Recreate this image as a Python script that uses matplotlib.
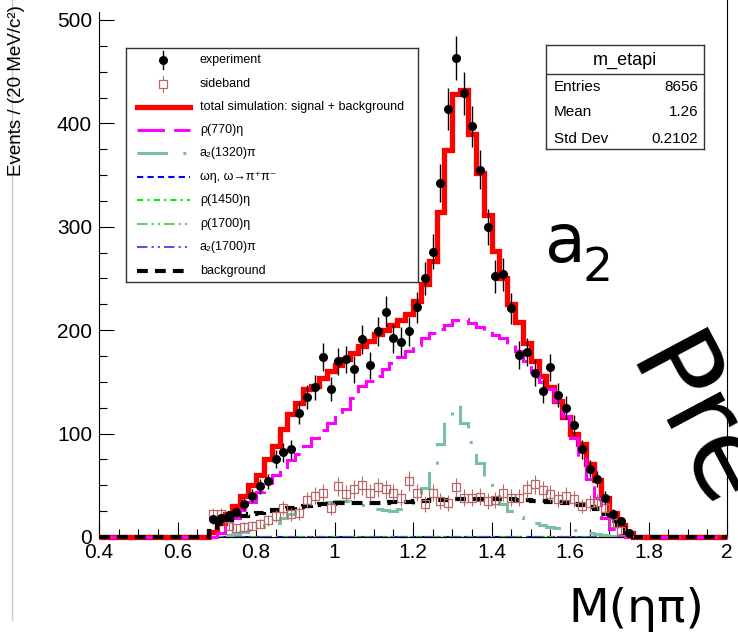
import numpy as np
import matplotlib
matplotlib.use("Agg")
import matplotlib.pyplot as plt
from matplotlib.lines import Line2D
from matplotlib.ticker import MultipleLocator, FuncFormatter

plt.rcParams['font.family'] = ['Liberation Sans', 'DejaVu Sans']

# 20 MeV bins from 0.4 to 2.0, data only from 0.68 on
lo, hi, width = 0.4, 2.0, 0.02
first_bin = 0.68

experiment = [17, 18, 21, 24, 32, 40, 49, 54, 75, 82, 85, 120, 135, 145, 174, 143,
              170, 172, 162, 191, 166, 199, 218, 192, 189, 199,
              222, 250, 276, 342, 414, 463, 429, 397, 355, 300,
              252, 254, 221, 176, 179, 159, 141, 164, 137, 125,
              108, 85, 66, 56, 38, 22, 15, 4]
sideband = [22, 22, 11, 9, 10, 11, 13, 16, 20, 28, 22, 23, 36, 40, 43, 28,
            49, 42, 46, 50, 43, 48, 46, 43, 38, 54,
            43, 32, 43, 35, 33, 48, 38, 38, 39, 35,
            36, 43, 38, 38, 46, 51, 45, 42, 37, 40,
            37, 30, 33, 34, 28, 14, 6, 2]
total_sim = [5, 14, 22, 30, 40, 50, 60, 75, 88, 104, 119, 130, 143, 146, 154, 161,
             166, 172, 178, 185, 190, 196, 200, 205, 210, 216,
             228, 245, 267, 314, 374, 428, 432, 390, 352, 311,
             277, 250, 225, 208, 188, 170, 156, 145, 132, 116,
             100, 90, 71, 55, 38, 23, 12, 4]
rho770 = [0, 4, 10, 18, 26, 34, 44, 52, 60, 68, 74, 80, 88, 96, 103, 110,
          116, 124, 134, 146, 151, 156, 162, 168, 174, 180,
          186, 192, 197, 201, 205, 210, 211, 207, 203, 199,
          195, 192, 186, 180, 170, 160, 150, 143, 132, 117,
          96, 77, 56, 38, 18, 8, 2, 0]
a2_1320 = [0, 1, 2, 3, 5, 7, 10, 12, 14, 18, 22, 26, 30, 32, 33, 34,
           35, 35, 33, 31, 29, 27, 26, 25, 27, 29,
           35, 47, 62, 90, 118, 128, 110, 92, 72, 55,
           42, 32, 25, 19, 16, 14, 12, 10, 9, 8,
           7, 6, 4, 3, 2, 1, 0, 0]
background = [6, 13, 16, 18, 20, 22, 23, 25, 26, 27, 28, 29, 30, 31, 32, 32,
              33, 33, 33, 33, 33, 33, 33, 34, 34, 34,
              35, 35, 36, 36, 36, 37, 37, 37, 37, 37,
              37, 37, 37, 36, 36, 35, 35, 34, 34, 33,
              32, 31, 29, 27, 22, 15, 9, 3]

legend_labels = ["experiment", "sideband", "total simulation: signal + background",
                 "ρ(770)η", "a₂(1320)π", "ωη, ω→π⁺π⁻", "ρ(1450)η", "ρ(1700)η",
                 "a₂(1700)π", "background"]
stats_title = "m_etapi"
stats_rows = [("Entries", "8656"), ("Mean", "1.26"), ("Std Dev", "0.2102")]

edges = np.round(np.arange(lo, hi + width / 2, width), 3)
nbins = len(edges) - 1
i0 = int(round((first_bin - lo) / width))
centers = 0.5 * (edges[:-1] + edges[1:])


def full(vals):
    a = np.zeros(nbins)
    a[i0:i0 + len(vals)] = vals
    return a


W, H = 738, 632
fig = plt.figure(figsize=(W / 100, H / 100), dpi=100)
ax = fig.add_axes([99 / W, 1 - 537 / H, 628 / W, 525 / H])
ax.set_xlim(lo, hi)
ax.set_ylim(0, 507.7)

styles = {
    "total": dict(color="#ff0000", lw=3.8),
    "rho770": dict(color="#ff00ff", lw=2.2, ls=(0, (9, 3))),
    "a2_1320": dict(color="#79bfa1", lw=2.2, ls=(0, (10, 5, 1, 5))),
    "omega": dict(color="#0000ff", lw=1.5, ls=(0, (3, 2))),
    "rho1450": dict(color="#00ee00", lw=1.5, ls=(0, (3, 2, 1, 2))),
    "rho1700": dict(color="#66cc66", lw=1.5, ls=(0, (5, 2, 1, 2, 1, 2))),
    "a2_1700": dict(color="#5555dd", lw=1.5, ls=(0, (5, 2, 1, 2, 1, 2))),
    "bkg": dict(color="black", lw=3.0, ls=(0, (2.6, 1.7))),
}

zeros = np.zeros(nbins)
for key in ["omega", "rho1450", "rho1700", "a2_1700"]:
    s = styles[key]
    ax.stairs(zeros, edges, color=s["color"], lw=s["lw"], linestyle=s["ls"], clip_on=False, zorder=2)

s = styles["a2_1320"]
ax.stairs(full(a2_1320), edges, color=s["color"], lw=s["lw"], linestyle=s["ls"], clip_on=False, zorder=2)
s = styles["total"]
ax.stairs(full(total_sim), edges, color=s["color"], lw=s["lw"], clip_on=False, zorder=3)
s = styles["rho770"]
ax.stairs(full(rho770), edges, color=s["color"], lw=s["lw"], linestyle=s["ls"], clip_on=False, zorder=3)
s = styles["bkg"]
ax.stairs(full(background), edges, color=s["color"], lw=s["lw"], linestyle=s["ls"], clip_on=False, zorder=4)

sb = np.array(sideband, dtype=float)
ax.errorbar(centers[i0:i0 + len(sb)], sb, yerr=1.3 * np.sqrt(sb), fmt="s", mfc="none",
            mec="#b86868", ecolor="#b86868", ms=6, mew=0.9, elinewidth=0.8, zorder=5)
ex = np.array(experiment, dtype=float)
ax.errorbar(centers[i0:i0 + len(ex)], ex, yerr=np.sqrt(ex), fmt="o", color="black",
            ms=5.5, elinewidth=1.0, zorder=6)

ax.xaxis.set_major_locator(MultipleLocator(0.2))
ax.xaxis.set_minor_locator(MultipleLocator(0.05))
ax.yaxis.set_major_locator(MultipleLocator(100))
ax.yaxis.set_minor_locator(MultipleLocator(25))
ax.xaxis.set_major_formatter(FuncFormatter(lambda v, p: "%g" % round(v, 2)))
ax.yaxis.set_major_formatter(FuncFormatter(lambda v, p: "%g" % v))
ax.tick_params(which="major", direction="in", length=11, width=0.8, labelsize=15)
ax.tick_params(which="minor", direction="in", length=6, width=0.8)
ax.tick_params(axis="x", pad=4)
ax.tick_params(axis="y", pad=5)
ax.spines["top"].set_visible(False)
for sp in ["left", "bottom", "right"]:
    ax.spines[sp].set_linewidth(0.8)
ax.spines["right"].set_bounds(0, 519)

fig.text(17 / W, 1 - 5 / H, "Events / (20 MeV/c²)", rotation=90, ha="center", va="top", fontsize=13.5)

# legend box
lax = fig.add_axes([126 / W, 1 - 282 / H, 292 / W, 234 / H])
lax.set_xlim(0, 292)
lax.set_ylim(234, 0)
lax.set_xticks([])
lax.set_yticks([])
for sp in lax.spines.values():
    sp.set_color("#333333")
    sp.set_linewidth(1)
rows = [12, 36, 59, 82, 105, 129, 152, 176, 199, 223]
lax.plot([37, 37], [rows[0] - 9, rows[0] + 9], color="black", lw=1)
lax.plot([37], [rows[0]], "o", color="black", ms=5.5)
lax.plot([37, 37], [rows[1] - 8, rows[1] + 8], color="#b86868", lw=0.8)
lax.plot([37], [rows[1]], "s", mfc="white", mec="#b86868", ms=6, mew=0.9)
for r, key in zip(rows[2:], ["total", "rho770", "a2_1320", "omega", "rho1450", "rho1700", "a2_1700", "bkg"]):
    s = styles[key]
    lax.plot([11, 64], [r, r], color=s["color"], lw=s["lw"], linestyle=s.get("ls", "-"))
for r, lab in zip(rows, legend_labels):
    lax.text(74, r, lab, va="center", ha="left", fontsize=9)

# stats box
sax = fig.add_axes([546 / W, 1 - 149 / H, 158 / W, 104 / H])
sax.set_xlim(0, 158)
sax.set_ylim(104, 0)
sax.set_xticks([])
sax.set_yticks([])
for sp in sax.spines.values():
    sp.set_color("#333333")
    sp.set_linewidth(1)
sax.plot([0, 158], [28.5, 28.5], color="#333333", lw=1)
sax.text(79, 15, stats_title, ha="center", va="center", fontsize=13)
for r, (k, v) in zip([42, 67, 94], stats_rows):
    sax.text(8, r, k, ha="left", va="center", fontsize=11)
    sax.text(152, r, v, ha="right", va="center", fontsize=11)

# slide annotations
fig.text(545 / W, 1 - 262 / H, "a", fontsize=48, ha="left", va="baseline", family="DejaVu Sans")
fig.text(583 / W, 1 - 281 / H, "2", fontsize=34, ha="left", va="baseline", family="DejaVu Sans")
fig.text(568 / W, 1 - 622 / H, "M(ηπ)", fontsize=34, ha="left", va="baseline", family="DejaVu Sans")
fig.text(625 / W, 1 - 363 / H, "Pre", fontsize=80, rotation=-62, rotation_mode="anchor",
         ha="left", va="baseline", family="DejaVu Sans")
fig.add_artist(Line2D([12 / W, 12 / W], [1 - 620 / H, 1], color="#c8c8c8", lw=1))

fig.savefig("out.png", dpi=100)
